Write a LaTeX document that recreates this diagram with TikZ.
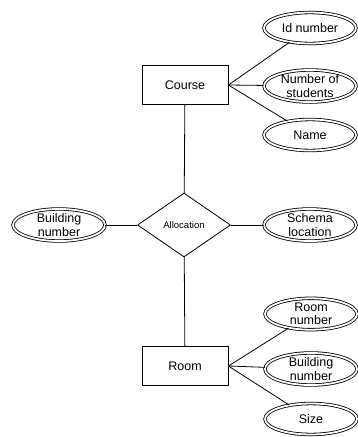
\documentclass[tikz,border=0pt]{standalone}
\usepackage{fontspec}
\setmainfont{Liberation Sans}
\usepackage{tikz}
\usetikzlibrary{shapes.geometric}

\tikzset{
  entity/.style={draw, rectangle, minimum width=86pt, minimum height=39pt, inner sep=0pt},
  relation/.style={draw, diamond, aspect=1.45, minimum width=93pt, minimum height=64pt, inner sep=0pt, font=\fontsize{9.5}{11}\selectfont},
  attrib/.style={draw, ellipse, double, double distance=1.8pt, minimum width=92pt, minimum height=31pt, inner sep=0pt, align=center},
}

\begin{document}
\begin{tikzpicture}[x=1pt, y=-1pt, line width=0.8pt, font=\fontsize{12.5}{13.5}\selectfont]
  \useasboundingbox (0,0) rectangle (358,437);
  % entities and relation
  \node[entity]   (course) at (185,85)  {Course};
  \node[relation] (alloc)  at (184,225) {Allocation};
  \node[entity]   (room)   at (185,366) {Room};
  % attributes
  \node[attrib] (idnum)   at (310,28)  {Id number};
  \node[attrib] (nstud)   at (310,86)  {Number of\\students};
  \node[attrib] (cname)   at (310,135) {Name};
  \node[attrib] (bldleft) at (59,225)  {Building\\number};
  \node[attrib] (schema)  at (310,225) {Schema\\location};
  \node[attrib] (roomnum) at (311,314) {Room\\number};
  \node[attrib] (bldroom) at (311,369) {Building\\number};
  \node[attrib] (rsize)   at (311,419) {Size};
  \path[-]
  (course.east) edge (idnum)
                edge (nstud)
                edge (cname)
  (course) edge (alloc)
  (alloc) edge (room)
          edge (bldleft)
          edge (schema)
  (room.east) edge (roomnum)
              edge (bldroom)
              edge (rsize)
  ;
\end{tikzpicture}
\end{document}
